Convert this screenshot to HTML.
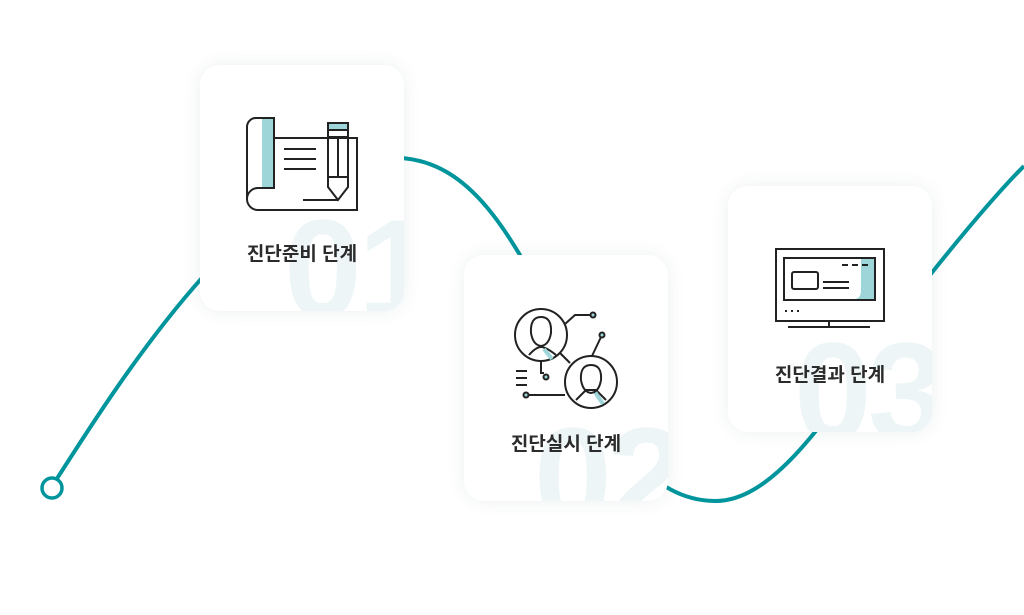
<!DOCTYPE html>
<html><head><meta charset="utf-8"><style>
body{margin:0;width:1024px;height:615px;background:#fff;position:relative;overflow:hidden;font-family:"Liberation Sans","Noto Sans CJK KR",sans-serif}
.card{position:absolute;width:204px;height:246px;background:#fff;border-radius:20px;box-shadow:0 0 18px rgba(0,70,80,0.08);overflow:hidden}
.num{position:absolute;font-size:140px;font-weight:bold;color:#edf5f7;line-height:1;letter-spacing:-4px}
.lbl{position:absolute;left:0;width:204px;text-align:center;font-size:19px;font-weight:bold;color:#2b2b2b}
svg.ic{position:absolute}
</style></head><body>
<svg width="1024" height="615" style="position:absolute;left:0;top:0">
<path d="M51,488 C120,380 260,155 400,158 C470,162 510,230 560,330 C610,440 650,500 715,501 C790,502 860,360 930,275 C970,225 1000,190 1024,166" fill="none" stroke="#00959c" stroke-width="4"/>
<circle cx="52" cy="488" r="10" fill="#fff" stroke="#00959c" stroke-width="3.5"/>
</svg>

<div class="card" style="left:200px;top:65px">
<div class="num" style="left:84px;top:134px">01</div>
<svg class="ic" style="left:0;top:0" width="204" height="160" fill="none" stroke="#222" stroke-width="2">
<rect x="62" y="53" width="12" height="70" fill="#9dd5d8" stroke="none"/>
<path d="M74,73 H157 V145 H58 A11,11 0 0 1 58,123 H74 V53 H56 A9,9 0 0 0 47,62 V135"/>
<path d="M84,84 H116 M84,94 H116 M84,104 H116"/>
<path d="M103,135 H138"/>
<rect x="128" y="58" width="20" height="7" fill="#9dd5d8"/>
<path d="M128,65 V122 L138,135 L148,122 V65 M128,112 H148 M138,72 V112 M128,72 H148"/>
</svg>
<div class="lbl" style="top:174px">진단준비 단계</div>
</div>

<div class="card" style="left:464px;top:255px">
<div class="num" style="left:70px;top:152px">02</div>
<svg class="ic" style="left:0;top:0" width="204" height="170" fill="none" stroke="#222" stroke-width="2">
<circle cx="77" cy="80" r="26"/>
<path d="M65,100 Q72,92 77,92 Q82,92 92,100" />
<path d="M80,94 L88,104" stroke="#9dd5d8" stroke-width="4"/>
<path d="M67,78 Q66,62 77,62 Q88,62 87,78 Q85,90 77,91 Q69,90 67,78Z"/>
<circle cx="127" cy="127" r="26"/>
<path d="M112,145 L122,135 H132 L142,145"/>
<path d="M131,137 L139,149" stroke="#9dd5d8" stroke-width="4"/>
<path d="M117,125 Q116,110 127,110 Q138,110 137,125 Q135,137 127,138 Q119,137 117,125Z"/>
<path d="M101,69 L111,60 H126"/><circle cx="129" cy="60" r="2.5" fill="#9dd5d8"/>
<path d="M128,101 L137,82"/><circle cx="138" cy="80" r="2.5" fill="#9dd5d8"/>
<path d="M96,98 L106,108"/>
<path d="M77,106 V118 H80"/><circle cx="82" cy="122" r="2.5" fill="#9dd5d8"/>
<path d="M64,140 H101"/><circle cx="62" cy="140" r="2.5" fill="#9dd5d8"/>
<path d="M52,116 H63 M52,123 H63 M52,130 H63"/>
</svg>
<div class="lbl" style="top:174px">진단실시 단계</div>
</div>

<div class="card" style="left:728px;top:186px">
<div class="num" style="left:66px;top:136px">03</div>
<svg class="ic" style="left:0;top:0" width="204" height="160" fill="none" stroke="#222" stroke-width="2">
<rect x="48" y="63" width="108" height="72"/>
<path d="M56,113 H126 Q133,113 133,104 V73 H147 V114 H56Z" fill="#9dd5d8" stroke="none"/>
<rect x="56" y="72" width="91" height="42"/>
<rect x="64" y="86" width="26" height="17" rx="2"/>
<path d="M95,96 H121 M95,102 H121"/>
<path d="M114,79 H120 M124,79 H130 M134,79 H140" />
<path d="M57,125 H59 M63,125 H65 M69,125 H71" />
<path d="M101,135 V141 M60,141 H142"/>
</svg>
<div class="lbl" style="top:174px">진단결과 단계</div>
</div>
</body></html>
